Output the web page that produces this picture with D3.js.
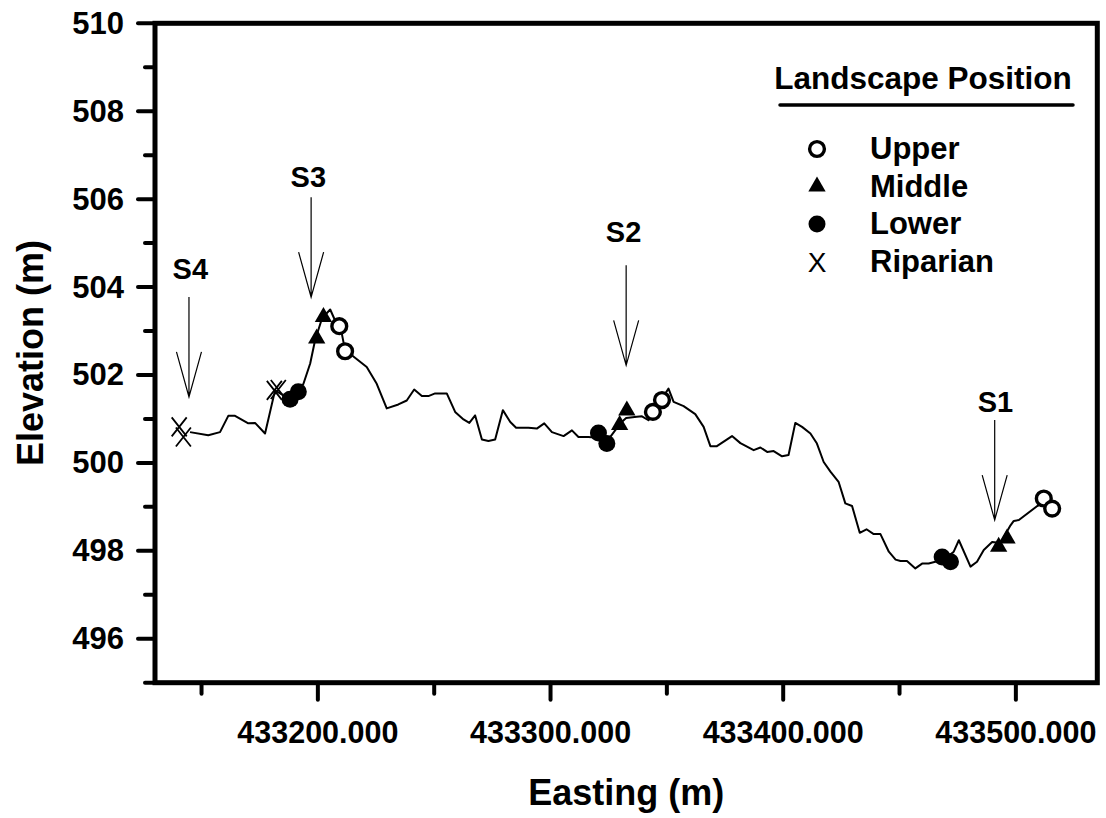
<!DOCTYPE html>
<html><head><meta charset="utf-8">
<script src="https://cdn.jsdelivr.net/npm/d3@7"></script>
<style>body{margin:0;background:#fff}svg{display:block}text{font-family:"Liberation Sans",Arial,sans-serif;font-weight:bold;fill:#000}</style>
</head><body>
<svg id="chart" width="1106" height="818"></svg>
<script>
// ---- data ----
const profileEasting = [433145.05,433152.9,433157.95,433161.5,433164.4,433170.1,433173.0,433177.3,433181.6,433185.0,433188.9,433193.8,433196.7,433198.8,433201.8,433205.3,433207.4,433210.0,433211.7,433214.6,433221.0,433225.3,433229.6,433234.6,433238.2,433241.4,433244.7,433247.5,433250.4,433255.4,433259.0,433262.6,433265.1,433267.6,433270.5,433273.3,433276.2,433279.5,433282.7,433285.2,433290.5,433294.1,433297.3,433300.6,433305.6,433309.2,433312.0,433316.3,433319.9,433322.6,433325.7,433330.0,433332.5,433337.1,433339.3,433342.1,433345.0,433348.0,433350.7,433352.9,433357.2,433362.2,433365.8,433368.7,433371.5,433378.0,433381.6,433387.3,433390.2,433393.1,433395.9,433399.5,433402.3,433405.2,433408.1,433411.7,433414.5,433417.4,433420.3,433423.8,433426.7,433429.6,433432.9,433435.8,433438.9,433441.8,433445.4,433448.3,433450.4,433453.2,433456.8,433459.7,433462.5,433465.4,433469.7,433473.3,433475.5,433480.5,433483.3,433486.2,433489.8,433493.4,433497.7,433499.1,433501.3,433509.2,433512.8,433515.6];
const profileElevation = [500.70,500.63,500.70,501.07,501.07,500.90,500.91,500.67,501.65,501.54,501.49,501.80,502.26,502.79,503.29,503.49,503.24,503.02,502.56,502.45,502.18,501.80,501.24,501.33,501.42,501.67,501.52,501.52,501.58,501.58,501.16,500.99,500.91,501.08,500.53,500.50,500.53,501.20,500.93,500.80,500.80,500.78,500.90,500.70,500.61,500.74,500.59,500.59,500.57,500.52,500.59,500.90,501.02,501.05,501.06,500.97,501.24,501.47,501.69,501.39,501.29,501.11,500.82,500.38,500.38,500.61,500.45,500.29,500.35,500.25,500.27,500.15,500.18,500.91,500.82,500.67,500.44,500.02,499.80,499.57,499.08,499.02,498.41,498.49,498.38,498.38,497.98,497.80,497.77,497.77,497.60,497.71,497.71,497.75,497.83,497.98,498.24,497.64,497.75,498.02,498.20,498.18,498.58,498.68,498.70,499.02,499.11,498.96];

const upperEasting = [433209.2,433211.7,433344.0,433347.9,433512.0,433515.6];
const upperElevation = [503.11,502.54,501.16,501.43,499.19,498.96];
const middleEasting = [433199.5,433202.4,433329.7,433332.8,433492.6,433496.2];
const middleElevation = [502.83,503.32,500.86,501.19,498.09,498.28];
const lowerEasting = [433188.05,433191.6,433320.6,433324.2,433468.3,433471.9];
const lowerElevation = [501.45,501.62,500.68,500.44,497.86,497.75];
const riparianEasting = [433140.4,433142.2,433181.3,433183.0];
const riparianElevation = [500.82,500.59,501.65,501.67];

const siteLabels = ["S4","S3","S2","S1"];
const siteEasting = [433144.6,433197.1,433332.5,433490.9];
const siteTipElevation = [501.50,503.77,502.22,498.70];
const siteLabelEasting = [433145.2,433195.9,433331.4,433491.2];
const siteLabelElevation = [504.19,506.27,505.02,501.15];

const yMajorTicks = [496,498,500,502,504,506,508,510];
const yMinorTicks = [495,497,499,501,503,505,507,509];
const xMajorTicks = [433200,433300,433400,433500];
const xMinorTicks = [433150,433250,433350,433450];
const xTickLabels = ["433200.000","433300.000","433400.000","433500.000"];

const legendTitle = "Landscape Position";
const legendNames = ["Upper","Middle","Lower","Riparian"];
const xTitle = "Easting (m)";
const yTitle = "Elevation (m)";

// ---- drawing ----
const svg = d3.select("#chart");
const L = 155, R = 1097.3, T = 23.3, B = 682.7;
const x = d3.scaleLinear().domain([433130, 433535]).range([L, R]);
const y = d3.scaleLinear().domain([495, 510]).range([B, T]);

// profile line
const pts = profileEasting.map((e,i)=>[e, profileElevation[i]]);
svg.append("path")
  .attr("d", d3.line().x(d=>x(d[0])).y(d=>y(d[1]))(pts))
  .attr("fill","none").attr("stroke","#000").attr("stroke-width",2).attr("stroke-linejoin","round");

// markers
function drawMarker(g, type, cx, cy){
  if(type==="Upper"){
    g.append("circle").attr("cx",cx).attr("cy",cy).attr("r",7.4).attr("fill","#fff").attr("stroke","#000").attr("stroke-width",3.4);
  } else if(type==="Middle"){
    g.append("path").attr("transform",`translate(${cx},${cy})`).attr("d", d3.symbol().type(d3.symbolTriangle).size(130)()).attr("fill","#000");
  } else if(type==="Lower"){
    g.append("circle").attr("cx",cx).attr("cy",cy).attr("r",8.5).attr("fill","#000");
  } else {
    g.append("path").attr("d",`M${cx-7.5},${cy-9.5}L${cx+7.5},${cy+9.5}M${cx+7.5},${cy-9.5}L${cx-7.5},${cy+9.5}`).attr("stroke","#000").attr("stroke-width",1.8).attr("fill","none");
  }
}
const mk = svg.append("g");
const series = [
  ["Riparian", riparianEasting, riparianElevation],
  ["Lower", lowerEasting, lowerElevation],
  ["Middle", middleEasting, middleElevation],
  ["Upper", upperEasting, upperElevation]
];
series.forEach(([t, es, zs])=>es.forEach((e,i)=>drawMarker(mk, t, x(e), y(zs[i]))));

// site arrows
const arrowLen = 100, wingDy = 45, wingDx = 12.5;
siteLabels.forEach((lab,i)=>{
  const ax = x(siteEasting[i]), ty = y(siteTipElevation[i]);
  svg.append("path")
    .attr("d",`M${ax},${ty-arrowLen}L${ax},${ty}M${ax-wingDx},${ty-wingDy}L${ax},${ty}L${ax+wingDx},${ty-wingDy}`)
    .attr("fill","none").attr("stroke","#000").attr("stroke-width",1.2);
  svg.append("text").attr("x",x(siteLabelEasting[i])).attr("y",y(siteLabelElevation[i]))
    .attr("text-anchor","middle").style("font-size","29px").text(lab);
});

// frame
svg.append("rect").attr("x",L).attr("y",T).attr("width",R-L).attr("height",B-T)
  .attr("fill","none").attr("stroke","#000").attr("stroke-width",5);

// y ticks
yMajorTicks.forEach(v=>{
  svg.append("line").attr("x1",L).attr("x2",L-17).attr("y1",y(v)).attr("y2",y(v)).attr("stroke","#000").attr("stroke-width",4).attr("stroke-linecap","round");
  svg.append("text").attr("x",124).attr("y",y(v)+10.5).attr("text-anchor","end").style("font-size","31px").text(v);
});
yMinorTicks.forEach(v=>{
  svg.append("line").attr("x1",L).attr("x2",L-10).attr("y1",y(v)).attr("y2",y(v)).attr("stroke","#000").attr("stroke-width",4).attr("stroke-linecap","round");
});
// x ticks
xMajorTicks.forEach((v,i)=>{
  svg.append("line").attr("x1",x(v)).attr("x2",x(v)).attr("y1",B).attr("y2",B+17).attr("stroke","#000").attr("stroke-width",4).attr("stroke-linecap","round");
  svg.append("text").attr("x",x(v)).attr("y",743).attr("text-anchor","middle").style("font-size","30.5px").text(xTickLabels[i]);
});
xMinorTicks.forEach(v=>{
  svg.append("line").attr("x1",x(v)).attr("x2",x(v)).attr("y1",B).attr("y2",B+11).attr("stroke","#000").attr("stroke-width",4).attr("stroke-linecap","round");
});

// axis titles
svg.append("text").attr("x",(L+R)/2).attr("y",805).attr("text-anchor","middle").style("font-size","36px").text(xTitle);
svg.append("text").attr("transform",`translate(43,${(T+B)/2}) rotate(-90)`).attr("text-anchor","middle").style("font-size","36px").text(yTitle);

// legend
svg.append("text").attr("x",923).attr("y",89).attr("text-anchor","middle").style("font-size","31.5px").text(legendTitle);
svg.append("line").attr("x1",780).attr("x2",1073).attr("y1",105).attr("y2",105).attr("stroke","#000").attr("stroke-width",3.5).attr("stroke-linecap","round");
const lg = svg.append("g");
legendNames.forEach((n,i)=>{
  const cy = 149 + i*37.5;
  if(n==="Riparian"){
    lg.append("text").attr("x",817).attr("y",cy+10).attr("text-anchor","middle").style("font-size","28px").style("font-weight","normal").text("X");
  } else {
    drawMarker(lg, n, 817, cy);
  }
  lg.append("text").attr("x",870).attr("y",cy+10).style("font-size","31px").text(n);
});
</script>
</body></html>
